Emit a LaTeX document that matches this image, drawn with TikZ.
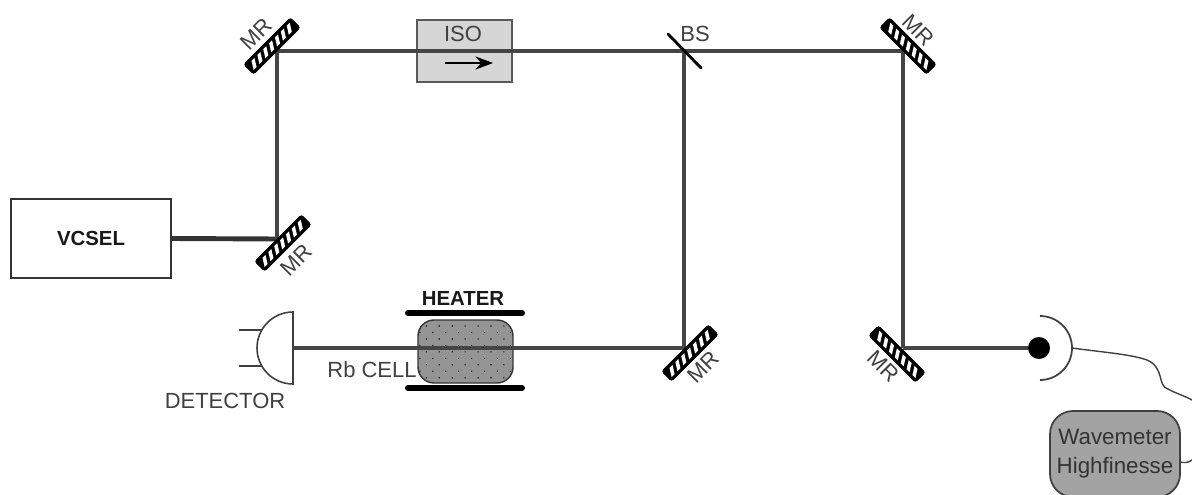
\documentclass[tikz,border=0pt]{standalone}
\usepackage{fontspec}
\setmainfont{Liberation Sans}
\usetikzlibrary{patterns.meta,arrows.meta}
\definecolor{beamgray}{HTML}{454545}
\tikzset{
  beam/.style={draw=beamgray, line width=2pt},
  lab/.style={text=black!75, font=\fontsize{12.5}{14}\selectfont, inner sep=0pt},
  boldlab/.style={text=black!90, font=\fontsize{11.6}{14}\selectfont\bfseries, inner sep=0pt},
  heaterbar/.style={line width=3.4pt, line cap=round},
  thinwire/.style={draw=black!75, line width=0.8pt},
  mrbox/.pic={
    \draw [fill=black, rounded corners=1.5pt] (-33,-7) rectangle (33,7) ;
    \foreach \i in {0,...,6}
      \fill [white] (-30+\i*8.3,-4) -- ++(4.2,0) -- ++(5,8) -- ++(-4.2,0) -- cycle ;
  }
}
\begin{document}
\begin{tikzpicture}[x=0.02cm, y=0.02cm]
    \clip (0,0) rectangle (1192,494) ;
    \fill [white] (0,0) rectangle (1192,494) ;

    \coordinate (mrlow) at (277,255) ;
    \coordinate (mrtop) at (277,443) ;
    \coordinate (bs) at (684,443) ;
    \coordinate (mrright) at (903,443) ;
    \coordinate (mrcell) at (684,146) ;
    \coordinate (mrout) at (903,146) ;

    \node (vcsel) [draw=black!80, line width=1pt, minimum width=160*0.02cm, minimum height=79*0.02cm, boldlab] at (91,255.5) {VCSEL} ;
    \node (iso) [draw=black!65, fill=black!16, line width=1pt, minimum width=95*0.02cm, minimum height=62*0.02cm] at (464.5,443) {} ;
    \node (isolab) [lab] at (463,460) {ISO} ;
    \coordinate (isoa) at (445,431) ;
    \coordinate (isob) at (493,431) ;
    \draw [-{Stealth[length=10pt, width=7.5pt]}, line width=0.8pt] (isoa) -- (isob) ;

    \node (cell) [draw=black!80, line width=0.8pt, rounded corners=0.32cm, minimum width=95*0.02cm, minimum height=63*0.02cm,
      preaction={fill=black!42}, pattern={Dots[distance=5.2pt, radius=0.45pt, angle=45]}] at (465.5,142.5) {} ;

    \draw [beam, line width=2.8pt, draw=black!80] (vcsel.east) -- (mrlow) ;
    \draw [beam] (mrlow) -- (mrtop) ;
    \draw [beam] (mrtop) -- (bs) ;
    \draw [beam] (bs) -- (mrright) ;
    \draw [beam] (bs) -- (mrcell) ;
    \draw [beam] (mrright) -- (mrout) ;

    \coordinate (dettop) at (293,182) ;
    \coordinate (detin) at (292,146) ;
    \coordinate (leadaa) at (239,164) ;
    \coordinate (leadab) at (262,164) ;
    \coordinate (leadba) at (239,128) ;
    \coordinate (leadbb) at (262,128) ;
    \draw [beam, line width=1.8pt] (mrcell) -- (detin) ;
    \draw [thinwire, line width=0.9pt] (dettop) arc (90:270:36) -- cycle ;
    \draw [thinwire] (leadaa) -- (leadab) ;
    \draw [thinwire] (leadba) -- (leadbb) ;
    \node (detlab) [lab] at (225,93) {DETECTOR} ;

    \coordinate (hta) at (408,181) ;
    \coordinate (htb) at (522,181) ;
    \coordinate (hba) at (408,106) ;
    \coordinate (hbb) at (522,106) ;
    \draw [heaterbar] (hta) -- (htb) ;
    \draw [heaterbar] (hba) -- (hbb) ;
    \node (heatlab) [boldlab] at (463,196) {HEATER} ;
    \node (rblab) [lab] at (372,124) {Rb CELL} ;

    \pic [rotate=45] at (283,251) {mrbox} ;
    \pic [rotate=45] at (272,448) {mrbox} ;
    \pic [rotate=-45, xscale=-1] at (908,448) {mrbox} ;
    \pic [rotate=45] at (690,141) {mrbox} ;
    \pic [rotate=-45, xscale=-1] at (897,140) {mrbox} ;

    \node (mrlowlab) [lab, rotate=45] at (296,234) {MR} ;
    \node (mrtoplab) [lab, rotate=45] at (256,460) {MR} ;
    \node (mrrightlab) [lab, rotate=-45] at (918,464) {MR} ;
    \node (mrcelllab) [lab, rotate=45] at (703,127) {MR} ;
    \node (mroutlab) [lab, rotate=-45] at (883,128) {MR} ;

    \coordinate (bsa) at (668,460) ;
    \coordinate (bsb) at (701,426) ;
    \draw [line width=1.6pt, line cap=round] (bsa) -- (bsb) ;
    \node (bslab) [lab] at (695,460) {BS} ;

    \node (dot) [circle, fill=black, inner sep=0pt, minimum size=22*0.02cm] at (1039,146) {} ;
    \draw [beam, line width=2.2pt] (mrout) -- (dot) ;
    \coordinate (arctop) at (1040,178) ;
    \coordinate (arcmid) at (1072,146) ;
    \draw [thinwire, line width=1pt] (arctop) arc (90:-90:32) ;

    \node (wm) [draw=black!75, fill=black!36, line width=1pt, rounded corners=0.46cm, minimum width=130*0.02cm, minimum height=86*0.02cm,
      lab, text=black!80, font=\fontsize{12.7}{15}\selectfont, align=center] at (1115,40) {Wavemeter\\[1.5pt]Highfinesse} ;
    \coordinate (wmout) at (1180,32) ;
    \coordinate (wmend) at (1192,34) ;
    \coordinate (fibreend) at (1192,94) ;
    \draw [thinwire] (arcmid) .. controls (1100,142) and (1130,140) .. (1147,134)
       .. controls (1165,126) and (1157,108) .. (1168,105) .. controls (1175,101) and (1185,98) .. (fibreend) ;
    \draw [thinwire] (wmout) .. controls (1184,31) and (1188,31) .. (wmend) ;
\end{tikzpicture}
\end{document}
